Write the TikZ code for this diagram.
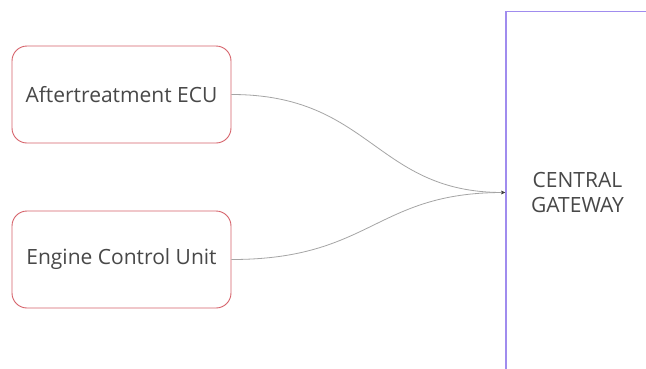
\documentclass[tikz,border=0pt]{standalone}
\usepackage{fontspec}
\setmainfont{Open Sans}
\usetikzlibrary{arrows.meta}
\definecolor{boxred}{RGB}{214,98,106}
\definecolor{gwline}{RGB}{160,140,238}
\definecolor{conn}{RGB}{165,165,165}
\definecolor{txt}{RGB}{72,72,72}
\tikzset{
  ecubox/.style={draw=boxred, line width=0.9pt, rounded corners=15pt, minimum width=219pt, minimum height=97pt, inner sep=0pt, font=\fontsize{21}{25}\selectfont, text=txt},
  gwbox/.style={draw=gwline, line width=1.8pt, minimum width=143pt, minimum height=362pt, inner sep=0pt, align=center, font=\fontsize{21}{25.6}\selectfont, text=txt},
  link/.style={draw=conn, line width=0.8pt, -{Stealth[length=4pt,width=3.5pt,color=black!75]}}
}
\begin{document}
\begin{tikzpicture}[x=1pt,y=-1pt]
\useasboundingbox (0,0) rectangle (646,368);
\fill[white] (0,0) rectangle (646,368);
\clip (0,0) rectangle (646,368);
\node[ecubox] (ecu1) at (121.5,94.5) {Aftertreatment ECU};
\node[ecubox] (ecu2) at (121.5,259.5) {Engine Control Unit};
\node[gwbox] (gw) at (577.5,192.5) {CENTRAL\\GATEWAY};
\coordinate (in) at (gw.west |- 0,192.5);
\draw[link] (ecu1.east) .. controls +(140,0) and +(-130,0) .. (in);
\draw[link] (ecu2.east) .. controls +(140,0) and +(-130,0) .. (in);
\end{tikzpicture}
\end{document}
